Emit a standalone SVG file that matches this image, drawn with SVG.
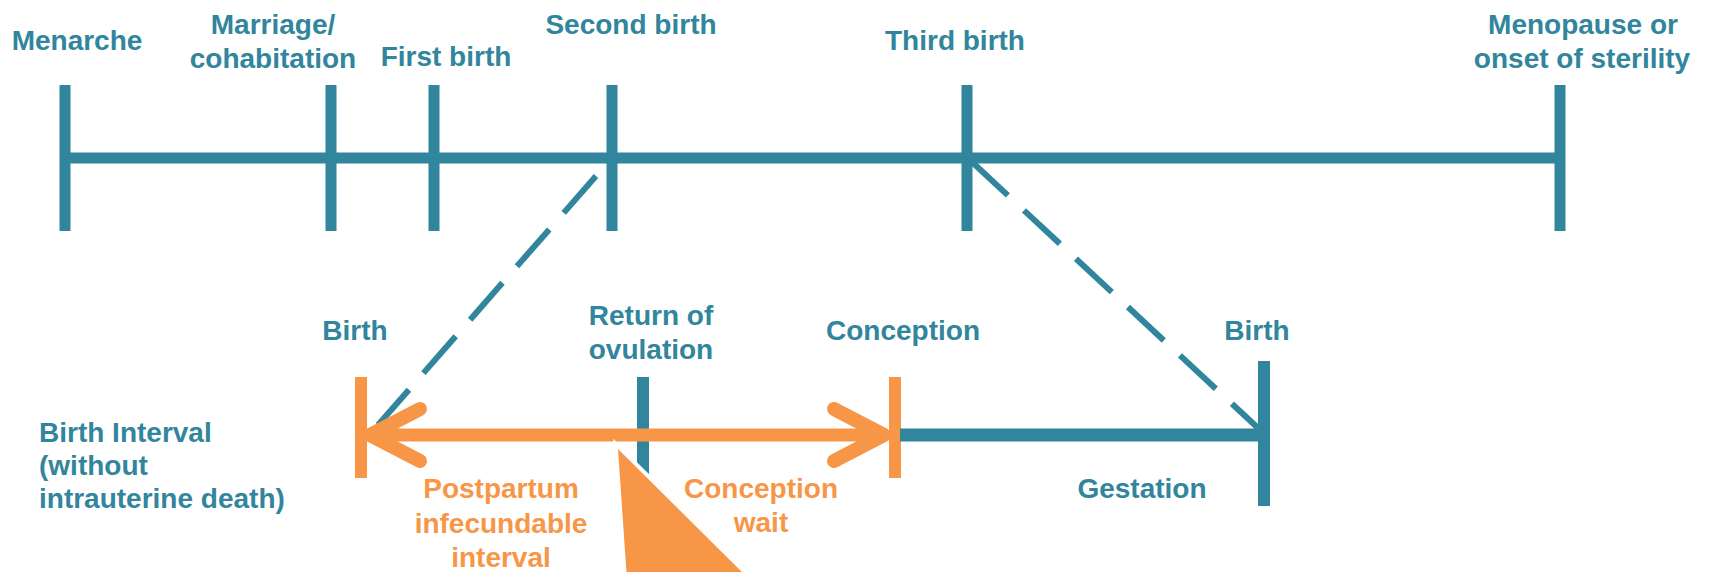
<svg xmlns="http://www.w3.org/2000/svg" width="1711" height="572" viewBox="0 0 1711 572">
<style>
.t{font-family:"Liberation Sans",Arial,sans-serif;font-weight:bold;font-size:28px;fill:#31859C;text-anchor:middle}
.o{fill:#F79646}
.ts{stroke:#31859C;fill:none}
.os{stroke:#F79646;fill:none}
</style>
<rect width="1711" height="572" fill="#fff"/>
<g id="timeline">
<line class="ts" x1="65" y1="158" x2="1560" y2="158" stroke-width="11"/>
</g>
<g id="menarche">
<line class="ts" x1="65" y1="85" x2="65" y2="231" stroke-width="11"/>
<text class="t" x="77" y="50">Menarche</text>
</g>
<g id="marriage">
<line class="ts" x1="331" y1="85" x2="331" y2="231" stroke-width="11"/>
<text class="t" x="273" y="34">Marriage/</text>
<text class="t" x="273" y="68">cohabitation</text>
</g>
<g id="first-birth">
<line class="ts" x1="434" y1="85" x2="434" y2="231" stroke-width="11"/>
<text class="t" x="446" y="66">First birth</text>
</g>
<g id="second-birth">
<line class="ts" x1="612" y1="85" x2="612" y2="231" stroke-width="11"/>
<text class="t" x="631" y="34">Second birth</text>
</g>
<g id="third-birth">
<line class="ts" x1="967" y1="85" x2="967" y2="231" stroke-width="11"/>
<text class="t" x="955" y="50">Third birth</text>
</g>
<g id="menopause">
<line class="ts" x1="1560" y1="85" x2="1560" y2="231" stroke-width="11"/>
<text class="t" x="1583" y="34">Menopause or</text>
<text class="t" x="1582" y="68">onset of sterility</text>
</g>
<g id="connectors">
<line class="ts" x1="596" y1="176" x2="378" y2="425" stroke-width="6" stroke-dasharray="49 22"/>
<line class="ts" x1="972" y1="162" x2="1258" y2="428" stroke-width="6" stroke-dasharray="49 22"/>
</g>
<g id="birth-interval-label">
<text class="t" x="39" y="442" style="text-anchor:start">Birth Interval</text>
<text class="t" x="39" y="475" style="text-anchor:start">(without</text>
<text class="t" x="39" y="508" style="text-anchor:start">intrauterine death)</text>
</g>
<g id="birth-left">
<line class="os" x1="361" y1="377" x2="361" y2="478" stroke-width="12"/>
<text class="t" x="355" y="340">Birth</text>
</g>
<g id="return-ovulation">
<line class="ts" x1="643" y1="377" x2="643" y2="478" stroke-width="12"/>
<text class="t" x="651" y="325">Return of</text>
<text class="t" x="651" y="359">ovulation</text>
</g>
<g id="conception">
<line class="os" x1="895" y1="377" x2="895" y2="478" stroke-width="12"/>
<text class="t" x="903" y="340">Conception</text>
</g>
<g id="birth-right">
<line class="ts" x1="1264" y1="361" x2="1264" y2="506" stroke-width="12"/>
<text class="t" x="1257" y="340">Birth</text>
</g>
<g id="gestation">
<line class="ts" x1="900" y1="435" x2="1264" y2="435" stroke-width="13"/>
<text class="t" x="1142" y="498">Gestation</text>
</g>
<g id="interval-arrow">
<line class="os" x1="372" y1="435" x2="884" y2="435" stroke-width="13"/>
<polyline class="os" points="420,409 370,435 420,461" stroke-width="14" stroke-linecap="round" stroke-linejoin="round"/>
<polyline class="os" points="834,409 884,435 834,461" stroke-width="14" stroke-linecap="round" stroke-linejoin="round"/>
</g>
<g id="postpartum-label">
<text class="t" x="501" y="498" style="fill:#F79646">Postpartum</text>
<text class="t" x="501" y="533" style="fill:#F79646">infecundable</text>
<text class="t" x="501" y="567" style="fill:#F79646">interval</text>
</g>
<g id="conception-wait-label">
<text class="t" x="761" y="498" style="fill:#F79646">Conception</text>
<text class="t" x="761" y="532" style="fill:#F79646">wait</text>
</g>
<g id="pointer">
<polygon points="618,449 627,580 750,580" fill="#F79646" stroke="#fff" stroke-width="8" stroke-linejoin="miter" paint-order="stroke"/>
</g>
</svg>
